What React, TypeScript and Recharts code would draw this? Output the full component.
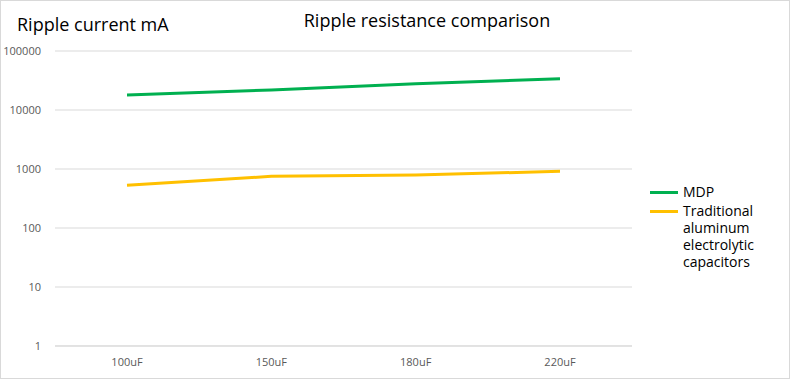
import React from 'react';
import {
  LineChart,
  Line,
  XAxis,
  YAxis,
  CartesianGrid,
  Legend,
} from 'recharts';

const categories = ['100uF', '150uF', '180uF', '220uF'];
const mdpValues = [18000, 21800, 27900, 34000];
const aluminumValues = [530, 752, 790, 915];
const yTicks = [1, 10, 100, 1000, 10000, 100000];

const series = [
  { key: 'mdp', name: 'MDP', color: '#00B050' },
  { key: 'aluminum', name: 'Traditional aluminum electrolytic capacitors', color: '#FFC000' },
];

const data = categories.map((c, i) => ({
  name: c,
  mdp: mdpValues[i],
  aluminum: aluminumValues[i],
}));

const FONT = '"Open Sans", "Noto Sans", sans-serif';

const LegendContent = () => (
  <div style={{ fontFamily: FONT, fontSize: 14, color: '#000', paddingLeft: 18 }}>
    {series.map((s) => (
      <div key={s.key} style={{ display: 'flex', alignItems: 'flex-start', marginBottom: 2 }}>
        <span
          style={{
            display: 'inline-block',
            width: 28,
            height: 3,
            background: s.color,
            marginTop: 8,
            marginRight: 5,
            flexShrink: 0,
          }}
        />
        <span style={{ lineHeight: '17px', width: 80 }}>{s.name}</span>
      </div>
    ))}
  </div>
);

export default function App() {
  return (
    <div
      style={{
        position: 'absolute',
        left: 0,
        top: 0,
        width: 788,
        height: 377,
        border: '1px solid #d9d9d9',
        background: '#fff',
        fontFamily: FONT,
      }}
    >
      <div style={{ position: 'absolute', left: 16, top: 11, fontSize: 18, color: '#000' }}>
        Ripple current mA
      </div>
      <div
        style={{
          position: 'absolute',
          left: 0,
          width: 852,
          top: 7,
          textAlign: 'center',
          fontSize: 18,
          color: '#000',
        }}
      >
        Ripple resistance comparison
      </div>
      <div style={{ position: 'absolute', left: -1, top: -1 }}>
        <LineChart width={790} height={379} data={data} margin={{ top: 51, right: 38, left: 0, bottom: 0 }}>
          <CartesianGrid vertical={false} stroke="#d9d9d9" />
          <XAxis
            dataKey="name"
            height={33}
            padding={{ left: 72, right: 72 }}
            axisLine={{ stroke: '#d9d9d9' }}
            tickLine={false}
            tickMargin={6}
            tick={{ fill: '#595959', fontSize: 11, fontFamily: FONT }}
          />
          <YAxis
            scale="log"
            domain={[1, 100000]}
            ticks={yTicks}
            allowDataOverflow
            width={55}
            axisLine={false}
            tickLine={false}
            tickMargin={8}
            tick={{ fill: '#595959', fontSize: 11, fontFamily: FONT }}
          />
          <Legend
            layout="vertical"
            align="right"
            verticalAlign="middle"
            wrapperStyle={{ width: 120, top: 183 }}
            content={<LegendContent />}
          />
          {series.map((s) => (
            <Line
              key={s.key}
              dataKey={s.key}
              name={s.name}
              stroke={s.color}
              strokeWidth={3}
              dot={false}
              activeDot={false}
              isAnimationActive={false}
            />
          ))}
        </LineChart>
      </div>
    </div>
  );
}
